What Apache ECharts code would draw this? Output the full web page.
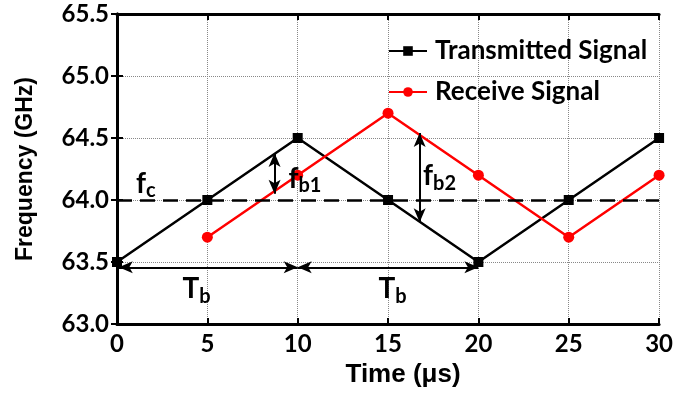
<!DOCTYPE html>
<html><head><meta charset="utf-8">
<script src="https://cdn.jsdelivr.net/npm/echarts@6/dist/echarts.min.js"></script>
<style>html,body{margin:0;padding:0;background:#fff}#c{width:676px;height:395px}</style>
</head><body><div id="c"></div>
<script>
const timeUs = [0, 5, 10, 15, 20, 25, 30];
const transmitted = [63.5, 64.0, 64.5, 64.0, 63.5, 64.0, 64.5];
const receiveTime = [5, 10, 15, 20, 25, 30];
const received = [63.7, 64.2, 64.7, 64.2, 63.7, 64.2];
const fcLevel = 64.0;
const fb1Arrow = [[8.72, 64.38], [8.72, 64.05]];
const fb2Arrow = [[16.75, 64.54], [16.75, 63.82]];
const tbArrow1 = [[0.1, 63.457], [10, 63.457]];
const tbArrow2 = [[10, 63.457], [20, 63.457]];
const labelTexts = ['{f|f}{s|c}', '{f|f}{s|b1}', '{f|f}{s|b2}', '{f|T}{s|b}', '{f|T}{s|b}'];
const labelPos = [[1.6, 64.13], [10.4, 64.17], [17.85, 64.19], [4.4, 63.28], [15.25, 63.28]];

const FONT = 'Lato';
const FONT2 = 'Liberation Sans';
const chart = echarts.init(document.getElementById('c'), null, {renderer: 'canvas'});
const axisLine = {show: true, lineStyle: {color: '#000', width: 3}};
const splitLine = {show: true, lineStyle: {color: '#888', type: 'dotted', width: 1}};
const tick = {show: true, inside: true, length: 6, lineStyle: {color: '#000', width: 2}};
const richLbl = {
  f: {fontFamily: FONT, fontWeight: 'bold', fontSize: 28, color: '#000', lineHeight: 30},
  s: {fontFamily: FONT, fontWeight: 'bold', fontSize: 20, color: '#000', padding: [14, 0, 0, 0], lineHeight: 22}
};
const arrowLine = (pts) => [{coord: pts[0]}, {coord: pts[1]}];

chart.setOption({
  animation: false,
  grid: {left: 117, right: 12, top: 14, bottom: 71},
  legend: {
    orient: 'vertical', left: 383, top: 32, itemWidth: 38, itemHeight: 12, itemGap: 13,
    data: ['Transmitted Signal', 'Receive Signal'],
    textStyle: {fontFamily: FONT, fontWeight: 'bold', fontSize: 26, color: '#000', lineHeight: 28, padding: [0, 0, 0, 3]}
  },
  xAxis: [{
    type: 'value', min: 0, max: 30, interval: 5,
    name: 'Time (\u03bcs)', nameLocation: 'middle', nameGap: 38,
    nameTextStyle: {fontFamily: FONT2, fontWeight: 'bold', fontSize: 26, color: '#000', verticalAlign: 'top', padding: [0, 0, 0, 30]},
    axisLine, axisTick: tick,
    axisLabel: {fontFamily: FONT, fontWeight: 'bold', fontSize: 24, color: '#000', margin: 8},
    splitLine
  }, {
    type: 'value', min: 0, max: 30, interval: 5, position: 'top',
    axisLine, axisTick: tick, axisLabel: {show: false}, splitLine: {show: false}
  }],
  yAxis: [{
    type: 'value', min: 63.0, max: 65.5, interval: 0.5,
    name: 'Frequency (GHz)', nameLocation: 'middle', nameGap: 80,
    nameTextStyle: {fontFamily: FONT2, fontWeight: 'bold', fontSize: 23, color: '#000'},
    axisLine, axisTick: tick,
    axisLabel: {fontFamily: FONT, fontWeight: 'bold', fontSize: 24, color: '#000', margin: 8,
      formatter: v => v.toFixed(1)},
    splitLine
  }, {
    type: 'value', min: 63.0, max: 65.5, interval: 0.5, position: 'right',
    axisLine, axisTick: tick, axisLabel: {show: false}, splitLine: {show: false}
  }],
  series: [{
    name: 'Transmitted Signal', type: 'line',
    data: timeUs.map((t, i) => [t, transmitted[i]]),
    symbol: 'rect', symbolSize: 10,
    lineStyle: {color: '#000', width: 2.5}, itemStyle: {color: '#000'},
    z: 3
  }, {
    name: 'Receive Signal', type: 'line',
    data: receiveTime.map((t, i) => [t, received[i]]),
    symbol: 'circle', symbolSize: 11,
    lineStyle: {color: '#ff0000', width: 2.5}, itemStyle: {color: '#ff0000'},
    z: 4
  }, {
    name: 'annot', type: 'line', data: [], silent: true, z: 5,
    markLine: {
      silent: true, symbol: ['arrow', 'arrow'], symbolSize: [9, 14],
      label: {show: false},
      lineStyle: {color: '#000', width: 2, type: 'solid'},
      data: [arrowLine(fb1Arrow), arrowLine(fb2Arrow), arrowLine(tbArrow1), arrowLine(tbArrow2)]
    },
    markPoint: {
      silent: true, symbol: 'circle', symbolSize: 0,
      data: labelPos.map((p, i) => ({
        coord: p, label: {show: true, position: 'inside', formatter: labelTexts[i], rich: richLbl}
      }))
    }
  }, {
    name: 'fc', type: 'line', data: [], silent: true, z: 2,
    markLine: {
      silent: true, symbol: ['none', 'none'], label: {show: false},
      lineStyle: {color: '#000', width: 2.5, type: [15, 8]},
      data: [[{coord: [0, fcLevel]}, {coord: [30, fcLevel]}]]
    }
  }]
});
</script></body></html>
